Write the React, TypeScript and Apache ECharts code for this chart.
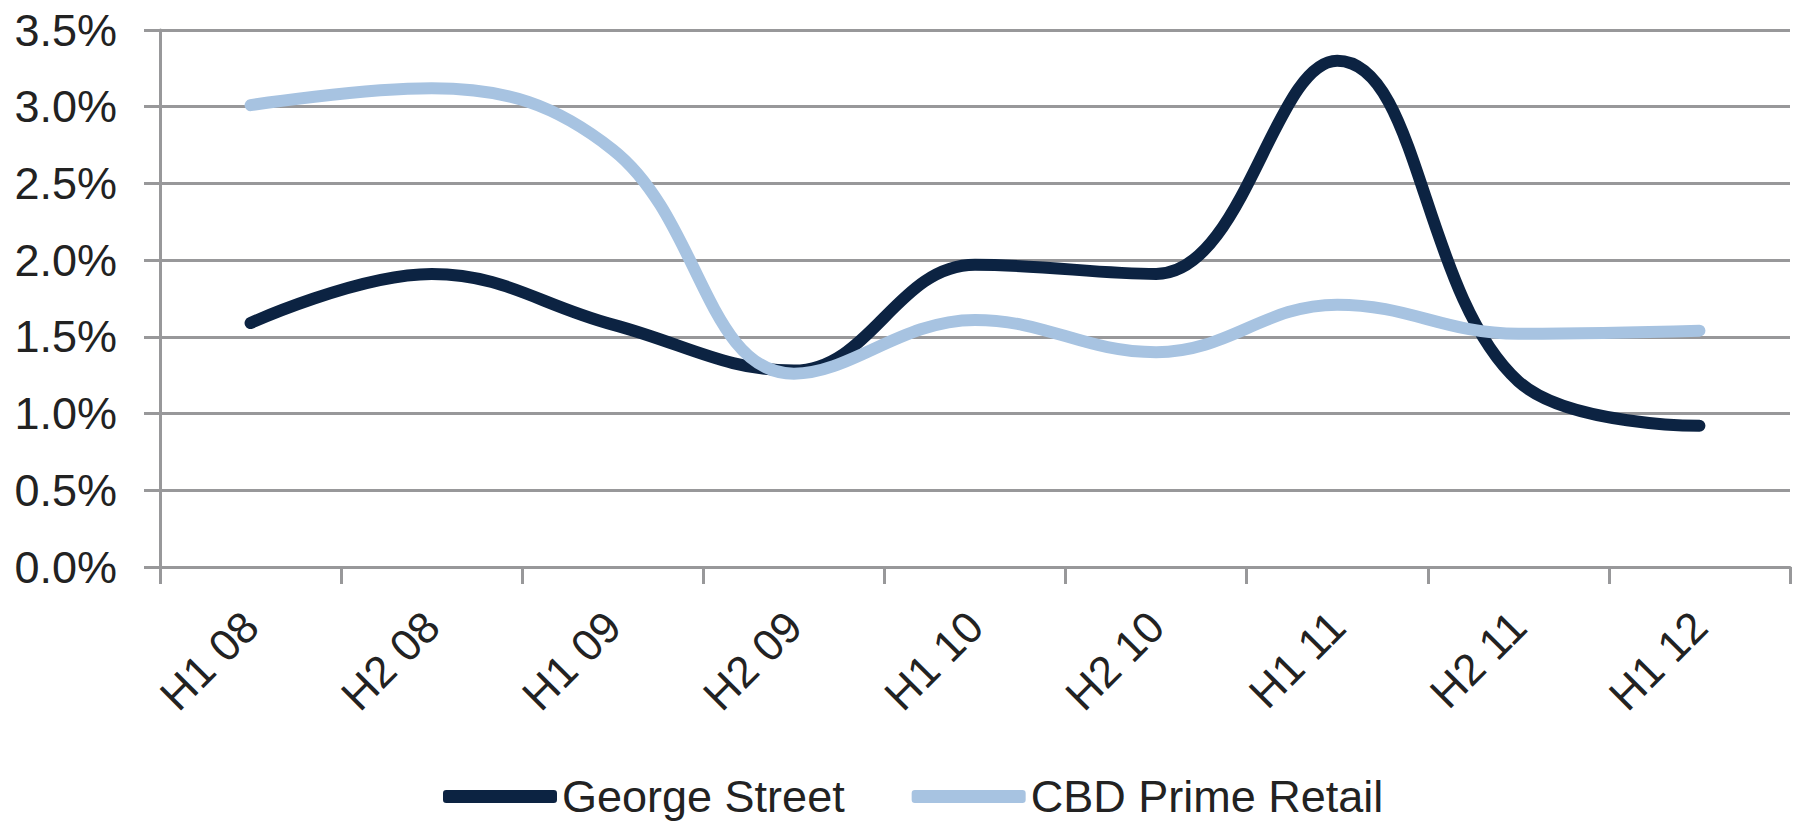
import React, { useEffect, useRef } from "react";
import * as echarts from "echarts";

// Half-year periods on the category axis
const periods = ["H1 08", "H2 08", "H1 09", "H2 09", "H1 10", "H2 10", "H1 11", "H2 11", "H1 12"];

// Values in percent
const georgeStreet = [1.59, 1.91, 1.58, 1.28, 1.97, 1.91, 3.3, 1.21, 0.92];
const cbdPrimeRetail = [3.01, 3.12, 2.72, 1.26, 1.61, 1.4, 1.71, 1.52, 1.54];

const seriesNames = ["George Street", "CBD Prime Retail"];
const seriesColors = ["#0c2342", "#a7c3e1"];

const FONT = "'Liberation Sans', Arial, sans-serif";
const GRID_GREY = "#98989a";
const TEXT = "#222222";

export default function App() {
  const ref = useRef<HTMLDivElement>(null);

  useEffect(() => {
    if (!ref.current) return;
    const chart = echarts.init(ref.current, null, { renderer: "svg" });
    const seriesData = [georgeStreet, cbdPrimeRetail];

    chart.setOption({
      animation: false,
      backgroundColor: "#ffffff",
      textStyle: { fontFamily: FONT },
      grid: { left: 160, right: 14, top: 30, bottom: 255, containLabel: false },
      legend: {
        data: seriesNames,
        left: 438,
        top: 769,
        icon: "roundRect",
        itemWidth: 114,
        itemHeight: 13,
        itemGap: 67,
        textStyle: { fontSize: 45, color: TEXT, fontFamily: FONT },
      },
      xAxis: {
        type: "category",
        data: periods,
        boundaryGap: true,
        axisLine: { show: true, lineStyle: { color: GRID_GREY, width: 3 } },
        axisTick: { show: true, length: 17, alignWithLabel: false, lineStyle: { color: GRID_GREY, width: 3 } },
        axisLabel: { interval: 0, rotate: 45, margin: 52, fontSize: 44, color: TEXT, fontFamily: FONT },
        splitLine: { show: false },
      },
      yAxis: {
        type: "value",
        min: 0,
        max: 3.5,
        interval: 0.5,
        axisLine: { show: true, lineStyle: { color: GRID_GREY, width: 3 } },
        axisTick: { show: true, length: 16, lineStyle: { color: GRID_GREY, width: 3 } },
        axisLabel: {
          margin: 43,
          fontSize: 45,
          color: TEXT,
          fontFamily: FONT,
          formatter: (v: number) => v.toFixed(1) + "%",
        },
        splitLine: { show: true, lineStyle: { color: GRID_GREY, width: 3 } },
      },
      series: seriesNames.map((name, i) => ({
        name,
        type: "line",
        data: seriesData[i],
        smooth: 0.4,
        symbol: "none",
        color: seriesColors[i],
        itemStyle: { color: seriesColors[i] },
        lineStyle: { color: seriesColors[i], width: 12, cap: "round", join: "round" },
      })),
    });

    return () => chart.dispose();
  }, []);

  return (
    <div
      ref={ref}
      style={{ position: "absolute", left: 0, top: 0, width: 1804, height: 822, background: "#fff" }}
    />
  );
}
